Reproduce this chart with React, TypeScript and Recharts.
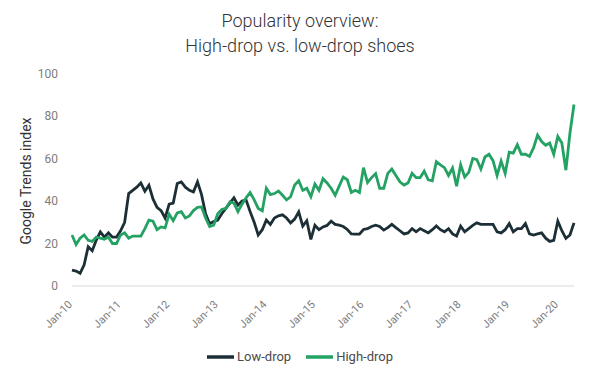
import React from 'react';
import { LineChart, Line, XAxis, YAxis } from 'recharts';

const MONTHS = ['Jan', 'Feb', 'Mar', 'Apr', 'May', 'Jun', 'Jul', 'Aug', 'Sep', 'Oct', 'Nov', 'Dec'];
const START_YEAR = 2010;

const lowDrop = [
  7.5, 7, 6, 10, 18.5, 16.6, 21.6, 25.5, 23, 25, 23, 23,
  26, 30, 43.5, 45, 46.5, 48.5, 44.6, 47.4, 41, 37, 35.5, 32,
  38.5, 39, 48.2, 49, 46.5, 45, 44.3, 49, 43, 34, 29.3, 30.3,
  31, 34, 36.5, 39, 41.5, 38, 40, 40.5, 35, 30, 24, 26.5,
  31, 29, 32, 33, 33.5, 32, 29.7, 31.5, 34.9, 28.2, 30.7, 21.9,
  28.6, 26.5, 27.8, 28.5, 30.5, 29, 28.6, 28, 26.6, 24.5, 24.4, 24.4,
  26.6, 27, 28, 28.6, 28, 26.3, 27.5, 29, 27.5, 26, 24.5, 25,
  27, 25.5, 27, 26, 25, 26.5, 28.3, 26.5, 25.5, 27, 24.5, 23.5,
  28.2, 25.5, 27, 28.5, 29.7, 29, 29, 29, 29, 25.5, 25, 26.5,
  29.4, 25.5, 27, 27, 29.4, 24.5, 24, 24.5, 25, 22.5, 21, 21.5,
  30.5, 26, 22.4, 24, 29.7,
];

const highDrop = [
  24, 19.5, 22.5, 24, 21.5, 21, 23, 22.5, 22, 23, 20, 20,
  24, 25, 22.5, 23.5, 23.5, 23.5, 27, 31, 30.5, 26.5, 27.8, 27.4,
  33.8, 30.7, 34.4, 35, 32, 33, 35.5, 37, 37.2, 32, 28, 28.6,
  34, 36, 36.5, 39.6, 39, 35, 38.5, 41.5, 44, 40.5, 36.5, 35.4,
  46, 43, 43.5, 44.7, 42.7, 40.5, 42, 47.5, 49.5, 45, 46, 42,
  48, 45, 50.5, 48.5, 46, 42.7, 47, 51.3, 50, 44, 45, 44,
  55.7, 48.7, 51, 52.9, 46, 46, 53, 55, 52, 49, 47.5, 48.5,
  53, 51, 51, 54, 50, 49.5, 58.5, 57, 55.7, 52, 55.5, 47,
  57, 51.3, 53.5, 60, 59.5, 55, 60.7, 62, 59, 52, 58.8, 53,
  63, 62.5, 66.5, 62, 62, 61, 65, 71, 68, 66.2, 67.3, 62,
  70.4, 67.3, 54.5, 72, 85.4,
];

const categories = lowDrop.map(
  (_, i) => `${MONTHS[i % 12]}-${String((START_YEAR + Math.floor(i / 12)) % 100).padStart(2, '0')}`
);

const tickLabels = ['Jan-10', 'Jan-11', 'Jan-12', 'Jan-13', 'Jan-14', 'Jan-15', 'Jan-16', 'Jan-17', 'Jan-18', 'Jan-19', 'Jan-20'];
const yTicks = [0, 20, 40, 60, 80, 100];
const seriesNames = ['Low-drop', 'High-drop'];
const seriesColors = ['#1c2f37', '#23a263'];
const titleLines = ['Popularity overview:', 'High-drop vs. low-drop shoes'];
const yAxisTitle = 'Google Trends index';

const data = categories.map((month, i) => ({ month, low: lowDrop[i], high: highDrop[i] }));

const FONT = 'Roboto, sans-serif';

const XTick = (props: any) => {
  const { x, y, payload } = props;
  const ax = x + 1;
  const ay = y + 11;
  return (
    <text
      x={ax}
      y={ay}
      textAnchor="end"
      transform={`rotate(-45 ${ax} ${ay})`}
      fill="#7d7d7d"
      fontSize={11}
      fontFamily={FONT}
    >
      {payload.value}
    </text>
  );
};

export default function App() {
  return (
    <div style={{ position: 'absolute', left: 0, top: 0, width: 600, height: 378, background: '#fff', fontFamily: FONT }}>
      <LineChart width={600} height={378} data={data} margin={{ top: 73.5, right: 26, bottom: 52, left: 32 }}>
        <XAxis
          dataKey="month"
          scale="point"
          padding={{ left: 0, right: 0 }}
          ticks={tickLabels}
          tick={<XTick />}
          tickLine={false}
          axisLine={{ stroke: '#d9d9d9', strokeWidth: 1 }}
          height={40}
          interval={0}
        />
        <YAxis
          domain={[0, 100]}
          ticks={yTicks}
          width={40}
          axisLine={false}
          tickLine={false}
          tickSize={6}
          tickMargin={8}
          tick={{ fill: '#7d7d7d', fontSize: 12, fontFamily: FONT }}
        />
        <Line
          type="linear"
          dataKey="low"
          name={seriesNames[0]}
          stroke={seriesColors[0]}
          strokeWidth={2.8}
          dot={false}
          isAnimationActive={false}
        />
        <Line
          type="linear"
          dataKey="high"
          name={seriesNames[1]}
          stroke={seriesColors[1]}
          strokeWidth={2.8}
          dot={false}
          isAnimationActive={false}
        />
      </LineChart>
      <svg width={600} height={378} style={{ position: 'absolute', left: 0, top: 0, pointerEvents: 'none' }}>
        <text x={300} y={27} textAnchor="middle" fontSize={18} fontWeight={300} fill="#333" fontFamily={FONT}>
          {titleLines[0]}
        </text>
        <text x={300} y={52} textAnchor="middle" fontSize={18} fontWeight={300} fill="#333" fontFamily={FONT}>
          {titleLines[1]}
        </text>
        <text
          transform="translate(31,181) rotate(-90)"
          textAnchor="middle"
          fontSize={14}
          fill="#333"
          fontFamily={FONT}
        >
          {yAxisTitle}
        </text>
      </svg>
      <div
        style={{
          position: 'absolute',
          left: 0,
          top: 349,
          width: 600,
          display: 'flex',
          justifyContent: 'center',
          alignItems: 'center',
          gap: 15,
          fontSize: 13,
          color: '#4a4a4a',
          fontFamily: FONT,
        }}
      >
        {seriesNames.map((name, i) => (
          <div key={name} style={{ display: 'flex', alignItems: 'center', gap: 3 }}>
            <svg width={27} height={6}>
              <line x1={0} y1={3} x2={27} y2={3} stroke={seriesColors[i]} strokeWidth={3.5} />
            </svg>
            <span>{name}</span>
          </div>
        ))}
      </div>
    </div>
  );
}
